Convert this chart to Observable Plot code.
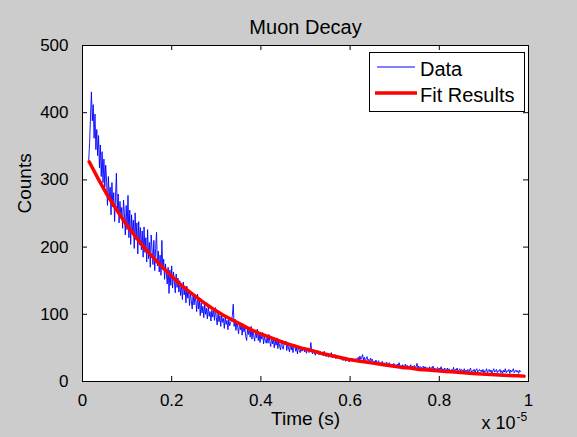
<!DOCTYPE html>
<html><head><meta charset="utf-8">
<script src="https://cdn.jsdelivr.net/npm/d3@7"></script>
<script src="https://cdn.jsdelivr.net/npm/@observablehq/plot@0.6"></script>
<style>
html,body{margin:0;padding:0;background:#cccccc;}
#chart{width:577px;height:437px;}
</style></head><body><div id="chart"></div>
<script>
const title = "Muon Decay";
const xLabel = "Time (s)";
const yLabel = "Counts";
const xMultiplier = "x 10";
const xExponent = "-5";
const seriesNames = ["Data", "Fit Results"];
const xTicks = [0, 0.2, 0.4, 0.6, 0.8, 1];
const xTickLabels = ["0", "0.2", "0.4", "0.6", "0.8", "1"];
const yTicks = [0, 100, 200, 300, 400, 500];
const yTickLabels = ["0", "100", "200", "300", "400", "500"];

// histogram bins (time in units of 1e-5 s)
const binStart = 0.014, binStep = 0.002;
const counts = [
  330, 356, 395, 431, 388, 412, 362, 398, 345, 375, 336, 366, 318, 352, 305, 342, 296, 331, 289, 322,
  298, 262, 305, 271, 289, 248, 296, 260, 281, 238, 274, 310, 252, 279, 236, 268, 246, 259, 228, 270,
  250, 218, 262, 226, 277, 214, 255, 204, 248, 221, 240, 198, 251, 211, 236, 190, 238, 203, 229, 196,
  224, 185, 230, 192, 214, 178, 226, 183, 207, 170, 218, 196, 174, 210, 165, 198, 222, 172, 194, 163,
  188, 158, 210, 166, 182, 152, 175, 160, 145, 170, 131, 166, 143, 172, 139, 163, 148, 132, 160, 140,
  154, 133, 150, 128, 145, 122, 148, 129, 139, 117, 142, 124, 136, 113, 133, 120, 108, 131, 114, 126,
  120, 104, 130, 108, 121, 98, 117, 102, 112, 95, 116, 100, 109, 93, 113, 97, 104, 90, 106, 96,
  106, 91, 110, 95, 84, 103, 89, 98, 82, 100, 88, 94, 79, 96, 85, 91, 77, 92, 83, 88,
  90, 98, 115, 82, 93, 76, 89, 80, 71, 88, 77, 84, 69, 86, 74, 80, 67, 61, 78, 70,
  79, 66, 82, 63, 75, 68, 60, 74, 65, 78, 61, 72, 58, 70, 63, 73, 56, 67, 61, 57,
  68, 57, 70, 59, 52, 66, 56, 63, 50, 62, 54, 65, 49, 59, 53, 47, 60, 52, 48, 57,
  55, 60, 46, 56, 50, 44, 57, 47, 53, 43, 52, 55, 45, 50, 41, 53, 46, 43, 51, 45,
  47, 51, 44, 48, 42, 46, 50, 43, 45, 58, 44, 41, 47, 43, 39, 45, 42, 46, 40, 43,
  44, 40, 43, 38, 45, 41, 37, 42, 39, 36, 41, 38, 43, 35, 39, 37, 40, 34, 38, 36,
  38, 34, 37, 33, 36, 31, 35, 33, 30, 36, 32, 34, 29, 33, 35, 31, 34, 30, 32, 33,
  34, 31, 36, 30, 38, 33, 35, 40, 32, 36, 30, 34, 37, 31, 33, 29, 35, 31, 33, 28,
  30, 27, 32, 26, 29, 31, 25, 28, 24, 30, 26, 28, 23, 27, 29, 24, 26, 28, 23, 25,
  26, 23, 27, 22, 25, 21, 26, 24, 28, 22, 24, 20, 25, 23, 21, 26, 22, 24, 20, 23,
  22, 25, 20, 23, 19, 24, 21, 22, 27, 20, 23, 19, 22, 21, 18, 23, 20, 22, 19, 21,
  20, 18, 22, 17, 21, 19, 23, 18, 20, 16, 19, 21, 17, 20, 18, 22, 17, 19, 16, 20,
  18, 16, 20, 15, 19, 17, 14, 18, 16, 21, 15, 18, 17, 20, 14, 17, 19, 15, 18, 16,
  16, 19, 14, 17, 15, 18, 13, 17, 20, 14, 16, 15, 18, 13, 17, 19, 14, 16, 18, 15,
  17, 14, 18, 12, 16, 15, 19, 13, 16, 18, 14, 17, 12, 16, 19, 14, 15, 18, 13, 16,
  15, 18, 13, 16, 12, 17, 14, 19, 13, 16, 15, 18, 12, 17, 14, 16, 19, 13, 15, 17,
  14, 16, 12, 17, 15
];

const fitTime = [0.015,0.035,0.055,0.075,0.095,0.115,0.135,0.155,0.175,0.195,
  0.215,0.235,0.255,0.275,0.295,0.315,0.335,0.355,0.375,0.395,
  0.415,0.435,0.455,0.475,0.495,0.515,0.535,0.555,0.575,0.595,
  0.615,0.635,0.655,0.675,0.695,0.715,0.735,0.755,0.775,0.795,
  0.815,0.835,0.855,0.875,0.895,0.915,0.935,0.955,0.975,0.99];
const fitCounts = [327,302,278,257,237,219,202,187,173,160,
  147,136,126,116,107,99,92,85,78,72,
  67,62,57,53,49,46,42,39,36,33,
  31,29,27,25,23,21,20,18,17,16,
  15,14,13,12,11,10.4,9.7,9.1,8.5,8.0];

const data = counts.map((c, i) => ({t: binStart + i * binStep, c}));
const fit = fitTime.map((t, i) => ({t, c: fitCounts[i]}));

const W = 577, H = 437, mL = 82, mR = 49, mT = 45, mB = 56;
const pw = W - mL - mR, ph = H - mT - mB, tk = 5;
const font = "'Liberation Sans', Arial, Helvetica, sans-serif";

const chart = Plot.plot({
  width: W, height: H,
  marginLeft: mL, marginRight: mR, marginTop: mT, marginBottom: mB,
  style: {background: "#cccccc", fontFamily: font, fontSize: "17px", color: "black", overflow: "visible"},
  x: {domain: [0, 1]},
  y: {domain: [0, 500]},
  marks: [
    Plot.frame({fill: "white"}),
    Plot.line(data, {x: "t", y: "c", stroke: "#0000ff", strokeWidth: 0.9}),
    Plot.line(fit, {x: "t", y: "c", stroke: "#ff0000", strokeWidth: 3.5}),
    Plot.tickX(xTicks, {x: d => d, insetTop: ph - tk, stroke: "black"}),
    Plot.tickX(xTicks, {x: d => d, insetBottom: ph - tk, stroke: "black"}),
    Plot.tickY(yTicks, {y: d => d, insetRight: pw - tk, stroke: "black"}),
    Plot.tickY(yTicks, {y: d => d, insetLeft: pw - tk, stroke: "black"}),
    Plot.frame({stroke: "black"}),
    Plot.axisX({ticks: xTicks, tickSize: 0, tickPadding: 12, label: null,
      tickFormat: d => xTickLabels[xTicks.indexOf(d)]}),
    Plot.axisY({ticks: yTicks, tickSize: 0, tickPadding: 14, label: null,
      tickFormat: d => yTickLabels[yTicks.indexOf(d)]}),
    Plot.text([title], {text: d => d, frameAnchor: "top", dy: -26, fontSize: 20}),
    Plot.text([xLabel], {text: d => d, frameAnchor: "bottom", dy: 43, fontSize: 19}),
    Plot.text([yLabel], {text: d => d, frameAnchor: "left", dx: -58, rotate: -90, fontSize: 19}),
    Plot.text([xMultiplier], {text: d => d, frameAnchor: "bottom-right", dx: -13, dy: 47, textAnchor: "end", fontSize: 18}),
    Plot.text([xExponent], {text: d => d, frameAnchor: "bottom-right", dx: -12, dy: 39, textAnchor: "start", fontSize: 12})
  ]
});

// legend box in the top-right corner of the frame
const svg = d3.select(chart);
const lx = W - mR - 159, ly = mT + 7;
const lg = svg.append("g").attr("font-family", font).attr("font-size", 20).attr("text-anchor", "start");
lg.append("rect").attr("x", lx + 0.5).attr("y", ly + 0.5).attr("width", 155).attr("height", 59)
  .attr("fill", "white").attr("stroke", "black");
const styles = [{stroke: "#0000ff", w: 1, x1: 8, x2: 46, y: 15},
                {stroke: "#ff0000", w: 3.5, x1: 6, x2: 48, y: 41}];
seriesNames.forEach((name, i) => {
  const s = styles[i];
  lg.append("line").attr("x1", lx + s.x1).attr("x2", lx + s.x2).attr("y1", ly + s.y).attr("y2", ly + s.y)
    .attr("stroke", s.stroke).attr("stroke-width", s.w);
  lg.append("text").attr("x", lx + 51).attr("y", ly + s.y + 9).attr("text-anchor", "start").text(name);
});

document.getElementById("chart").appendChild(chart);
</script></body></html>
